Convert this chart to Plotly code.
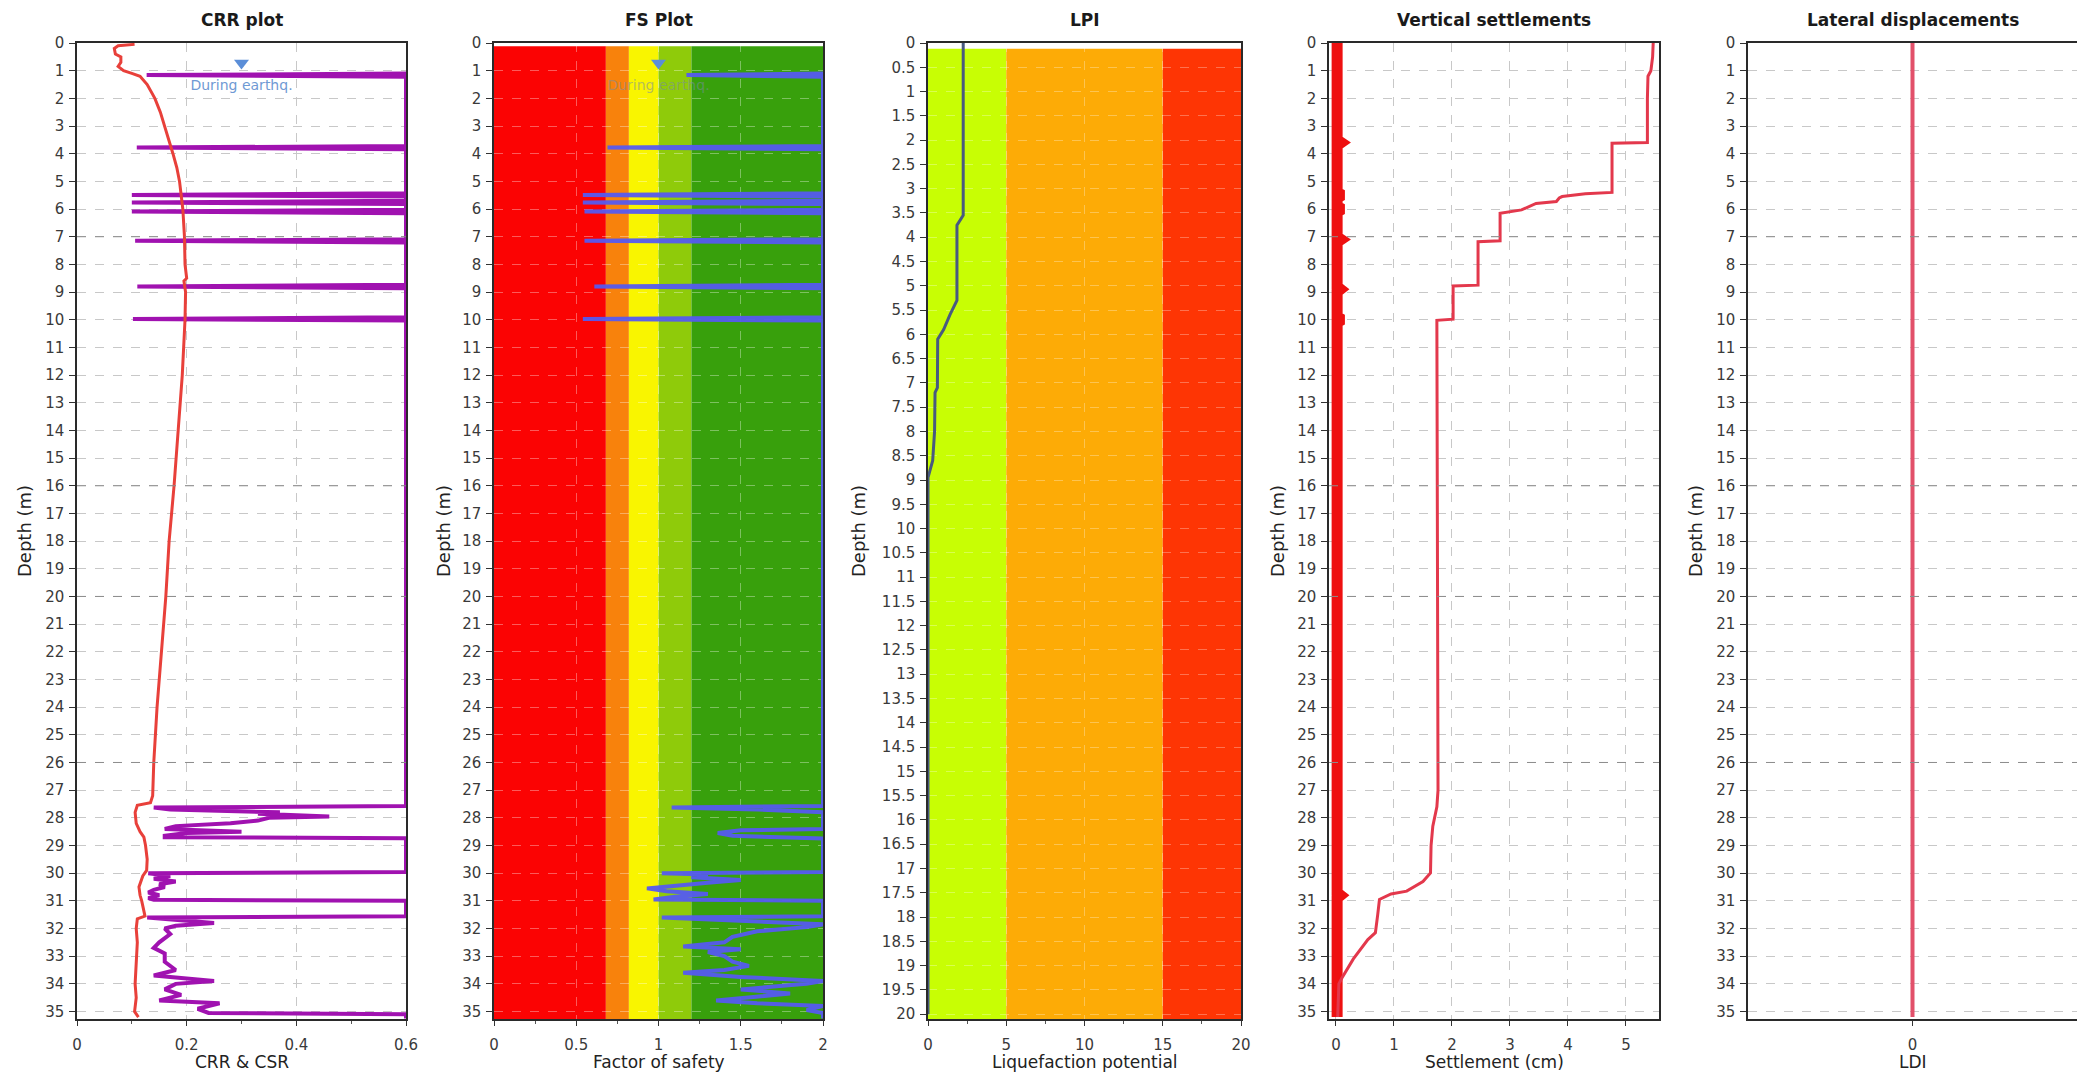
import plotly.graph_objects as go

W, H = 2085, 1082          # browser window
OFF = 8                    # default body margin of the html page
FW, FH = W - 2 * OFF, H - 2 * OFF
FONT = "DejaVu Sans"

# ---------------- data ----------------
panel_titles = ["CRR plot", "FS Plot", "LPI", "Vertical settlements", "Lateral displacements"]
x_titles = ["CRR & CSR", "Factor of safety", "Liquefaction potential", "Settlement (cm)", "LDI"]
depth_title = "Depth (m)"

# CSR (red) in CRR plot
csr_depth = [0.05, 0.1, 0.2, 0.4, 0.5, 0.7, 0.85, 1.0, 1.1, 1.2, 1.5, 2.0, 2.5, 3.0, 3.5, 4.0, 4.5,
             5.0, 5.5, 6.0, 7.0, 8.0, 8.5, 8.6, 9.0, 10.0, 12.0, 14.0, 16.0, 18.0, 20.0, 22.0, 24.0,
             26.0, 27.2, 27.45, 27.55, 27.8, 28.2, 28.5, 28.7, 29.0, 29.5, 29.9, 30.1, 30.5, 30.8,
             31.0, 31.3, 31.55, 31.65, 32.0, 32.5, 33.0, 33.5, 34.0, 34.5, 35.0, 35.2]
csr_value = [0.105, 0.075, 0.068, 0.07, 0.08, 0.08, 0.075, 0.085, 0.1, 0.115, 0.128, 0.142, 0.152,
             0.16, 0.168, 0.175, 0.182, 0.187, 0.19, 0.193, 0.196, 0.197, 0.2, 0.195, 0.198, 0.197,
             0.192, 0.185, 0.177, 0.168, 0.162, 0.154, 0.146, 0.14, 0.138, 0.134, 0.11, 0.106, 0.108,
             0.115, 0.122, 0.125, 0.128, 0.127, 0.12, 0.113, 0.115, 0.118, 0.122, 0.124, 0.11, 0.108,
             0.11, 0.109, 0.107, 0.106, 0.108, 0.105, 0.112]

# CRR (purple), clipped at the right edge of the axis
crr_depth = [1.1, 1.16, 1.22, 3.72, 3.78, 3.84, 5.43, 5.49, 5.55, 5.70, 5.76, 5.82, 6.03, 6.09,
             6.15, 7.09, 7.15, 7.21, 8.74, 8.8, 8.86, 9.91, 9.97, 10.03, 27.57, 27.63, 27.7,
             27.75, 27.8, 27.85, 27.95, 28.0, 28.1, 28.2, 28.3, 28.4, 28.5, 28.55, 28.65, 28.7,
             28.74, 29.96, 30.0, 30.1, 30.2, 30.3, 30.4, 30.5, 30.6, 30.7, 30.8, 30.9, 30.96,
             31.0, 31.56, 31.6, 31.7, 31.8, 31.9, 32.0, 32.2, 32.5, 32.7, 32.9, 33.2, 33.5, 33.7,
             33.9, 34.0, 34.2, 34.4, 34.6, 34.7, 34.9, 35.05, 35.1, 35.25]
crr_value = [0.6, 0.127, 0.6, 0.6, 0.109, 0.6, 0.6, 0.10, 0.6, 0.6, 0.10, 0.6, 0.6, 0.10, 0.6,
             0.6, 0.106, 0.6, 0.6, 0.11, 0.6, 0.6, 0.102, 0.6, 0.6, 0.14, 0.17, 0.28, 0.37, 0.33,
             0.46, 0.35, 0.33, 0.28, 0.18, 0.16, 0.30, 0.2, 0.16, 0.16, 0.6, 0.6, 0.13, 0.17,
             0.14, 0.18, 0.15, 0.16, 0.14, 0.13, 0.15, 0.13, 0.14, 0.6, 0.6, 0.128, 0.2, 0.25,
             0.18, 0.16, 0.17, 0.15, 0.14, 0.16, 0.16, 0.18, 0.14, 0.25, 0.18, 0.16, 0.19, 0.15,
             0.26, 0.22, 0.24, 0.6, 0.6]

# Factor of safety (blue), clipped at 2
fs_depth = [1.1, 1.16, 1.22, 3.72, 3.78, 3.84, 5.43, 5.49, 5.55, 5.70, 5.76, 5.82, 6.03, 6.09,
            6.15, 7.09, 7.15, 7.21, 8.74, 8.8, 8.86, 9.91, 9.97, 10.03, 27.57, 27.63, 27.7, 27.8,
            28.4, 28.45, 28.55, 28.65, 28.75, 29.96, 30.0, 30.05, 30.15, 30.25, 30.35, 30.45,
            30.55, 30.65, 30.75, 30.85, 30.95, 31.0, 31.56, 31.6, 31.65, 31.75, 31.85, 31.95,
            32.1, 32.3, 32.5, 32.65, 32.75, 32.85, 33.0, 33.2, 33.35, 33.5, 33.6, 33.75, 33.9,
            34.0, 34.1, 34.2, 34.35, 34.45, 34.6, 34.7, 34.8, 34.95, 35.05, 35.25]
fs_value = [2, 1.17, 2, 2, 0.69, 2, 2, 0.54, 2, 2, 0.54, 2, 2, 0.55, 2, 2, 0.55, 2, 2, 0.61, 2,
            2, 0.54, 2, 2, 1.08, 1.6, 2, 2, 1.5, 1.36, 1.45, 2, 2, 1.02, 1.3, 1.2, 1.5, 1.3, 1.1,
            0.93, 1.05, 1.3, 1.1, 0.97, 2, 2, 1.02, 1.2, 1.6, 2.0, 1.9, 1.6, 1.45, 1.4, 1.15, 1.5,
            1.3, 1.4, 1.45, 1.55, 1.4, 1.15, 1.5, 2.0, 1.9, 1.7, 1.5, 1.8, 1.6, 1.35, 1.6, 2.0,
            1.9, 2.0, 2.0]
fs_band_edges = [0, 0.68, 0.82, 1.0, 1.2, 2.0]
fs_band_colors = ["#fb0303", "#f8820c", "#f9f500", "#8fcb0a", "#38a00c"]
band_top_depth = 0.12

# LPI
lpi_depth = [0.0, 3.55, 3.75, 5.3, 5.6, 5.9, 6.1, 7.1, 7.2, 8.0, 8.6, 8.95, 20.0]
lpi_value = [2.25, 2.25, 1.85, 1.85, 1.4, 1.0, 0.62, 0.6, 0.45, 0.42, 0.3, 0.0, 0.0]
lpi_band_edges = [0, 5, 15, 20]
lpi_band_colors = ["#c8fe04", "#fdab06", "#fe3504"]

# Vertical settlements (cumulative)
settle_depth = [0.0, 0.5, 1.0, 1.2, 2.0, 3.6, 3.62, 4.5, 5.4, 5.45, 5.55, 5.6, 5.73, 5.8, 5.85,
                6.0, 6.03, 6.15, 7.15, 7.18, 8.75, 8.78, 9.98, 10.02, 20.0, 27.0, 27.6, 28.3,
                29.0, 29.99, 30.3, 30.65, 30.75, 30.95, 31.5, 32.15, 32.4, 33.1, 33.8, 34.0, 35.2]
settle_value = [5.47, 5.46, 5.43, 5.38, 5.37, 5.37, 4.76, 4.76, 4.76, 4.3, 3.9, 3.85, 3.8, 3.45,
                3.4, 3.25, 3.2, 2.83, 2.83, 2.45, 2.45, 2.02, 2.02, 1.74, 1.75, 1.76, 1.74, 1.67,
                1.64, 1.63, 1.5, 1.22, 0.95, 0.75, 0.72, 0.68, 0.55, 0.3, 0.1, 0.05, 0.03]
# incremental settlement per layer
dsettle_depth = [0, 3.5, 3.6, 3.7, 5.4, 5.5, 5.6, 5.9, 6.0, 6.1, 7.0, 7.1, 7.2, 8.8, 8.9, 9.0,
                 9.9, 10.0, 10.1, 30.7, 30.8, 30.9, 35.2]
dsettle_value = [0.02, 0.02, 0.09, 0.02, 0.02, 0.11, 0.02, 0.02, 0.11, 0.02, 0.02, 0.09, 0.02,
                 0.02, 0.08, 0.02, 0.02, 0.11, 0.02, 0.02, 0.08, 0.02, 0.02]

# Lateral displacements
ldi_depth = [0.0, 35.2]
ldi_value = [0.0, 0.0]

# Water table marker
gwt_depth = 0.72
gwt_label_depth = 1.57
gwt_label = "During earthq."
gwt_x_crr = 0.3
gwt_x_fs = 1.0

layer_depths = [7, 16, 20, 26]

for a, b in [(csr_depth, csr_value), (crr_depth, crr_value), (fs_depth, fs_value),
             (lpi_depth, lpi_value), (settle_depth, settle_value), (dsettle_depth, dsettle_value)]:
    assert len(a) == len(b), (len(a), len(b))

# ---------------- layout geometry (window pixels) ----------------
panels_px = [(77, 406), (494, 823), (928, 1241), (1329, 1659), (1748, 2077)]
plot_top_px, plot_bot_px = 43, 1019


def px(xp):
    return (xp - OFF) / FW


def py(yp):
    return 1 - (yp - OFF) / FH


ydom = [py(plot_bot_px), py(plot_top_px)]

x_ranges = [[0, 0.6], [0, 2], [0, 20], [-0.12, 5.57], [-1, 1]]
y_ranges = [[35.27, 0], [35.27, 0], [20.1, 0], [35.27, 0], [35.27, 0]]

fig = go.Figure()


def ax(i):
    return ("x" if i == 0 else f"x{i+1}"), ("y" if i == 0 else f"y{i+1}")


# CRR panel
fig.add_trace(go.Scatter(x=crr_value, y=crr_depth, mode="lines",
                         line=dict(color="#a012b0", width=4), xaxis="x", yaxis="y"))
fig.add_trace(go.Scatter(x=csr_value, y=csr_depth, mode="lines",
                         line=dict(color="#e8403a", width=3), xaxis="x", yaxis="y"))
# FS panel
fig.add_trace(go.Scatter(x=fs_value, y=fs_depth, mode="lines",
                         line=dict(color="rgba(85,90,240,0.95)", width=4), xaxis="x2", yaxis="y2"))
# LPI
fig.add_trace(go.Scatter(x=lpi_value, y=lpi_depth, mode="lines",
                         line=dict(color="#485a80", width=3), xaxis="x3", yaxis="y3"))
# Settlements
fig.add_trace(go.Scatter(x=dsettle_value, y=dsettle_depth, mode="lines",
                         line=dict(color="#ee1010", width=11), xaxis="x4", yaxis="y4"))
fig.add_trace(go.Scatter(x=settle_value, y=settle_depth, mode="lines",
                         line=dict(color="#e3384c", width=3), xaxis="x4", yaxis="y4"))
# LDI
fig.add_trace(go.Scatter(x=ldi_value, y=ldi_depth, mode="lines",
                         line=dict(color="#e2506a", width=4), xaxis="x5", yaxis="y5"))

# water table markers
for xa, ya, xv in [("x", "y", gwt_x_crr), ("x2", "y2", gwt_x_fs)]:
    fig.add_trace(go.Scatter(x=[xv], y=[gwt_depth], mode="markers",
                             marker=dict(symbol="triangle-down", size=13, color="#5b8ed8"),
                             xaxis=xa, yaxis=ya))
fig.add_trace(go.Scatter(x=[gwt_x_crr], y=[gwt_label_depth], mode="text", text=[gwt_label],
                         textfont=dict(color="#6f9ad4", size=14, family=FONT),
                         xaxis="x", yaxis="y"))
fig.add_trace(go.Scatter(x=[gwt_x_fs], y=[gwt_label_depth], mode="text", text=[gwt_label],
                         textfont=dict(color="rgba(120,140,160,0.55)", size=14, family=FONT),
                         xaxis="x2", yaxis="y2"))

shapes = []
for edges, colors, xa, ya, ymax in [(fs_band_edges, fs_band_colors, "x2", "y2", 35.27),
                                    (lpi_band_edges, lpi_band_colors, "x3", "y3", 20.1)]:
    for k, c in enumerate(colors):
        shapes.append(dict(type="rect", xref=xa, yref=ya, x0=edges[k], x1=edges[k + 1],
                           y0=band_top_depth, y1=ymax, fillcolor=c, line=dict(width=0),
                           layer="below"))
for i in [0, 3, 4]:
    xa, ya = ax(i)
    for d in layer_depths:
        shapes.append(dict(type="line", xref=f"{xa} domain", yref=ya, x0=0, x1=1, y0=d, y1=d,
                           line=dict(color="#8c8c8c", width=1, dash="dash"), layer="above"))

tickfont = dict(size=15, color="#3a3a3a", family=FONT)
layout = dict(width=FW, height=FH, margin=dict(l=0, r=0, t=0, b=0, autoexpand=False),
              paper_bgcolor="white", plot_bgcolor="white", showlegend=False,
              font=dict(family=FONT), shapes=shapes)

x_ticks = [
    dict(tickvals=[0, 0.2, 0.4, 0.6], ticktext=["0", "0.2", "0.4", "0.6"],
         minor=dict(tickvals=[0.1, 0.3, 0.5], ticks="outside", ticklen=3, tickcolor="#555")),
    dict(tickvals=[0, 0.5, 1, 1.5, 2], ticktext=["0", "0.5", "1", "1.5", "2"],
         minor=dict(tickvals=[0.25, 0.75, 1.25, 1.75], ticks="outside", ticklen=3, tickcolor="#555")),
    dict(tickvals=[0, 5, 10, 15, 20], ticktext=["0", "5", "10", "15", "20"],
         minor=dict(tickvals=[2.5, 7.5, 12.5, 17.5], ticks="outside", ticklen=3, tickcolor="#555")),
    dict(tickvals=[0, 1, 2, 3, 4, 5], ticktext=["0", "1", "2", "3", "4", "5"]),
    dict(tickvals=[0], ticktext=["0"]),
]
grid_colors = ["#c8c8c8", "rgba(255,255,255,0.35)", "rgba(255,255,255,0.3)", "#c8c8c8", "#c8c8c8"]

for i, (l, r) in enumerate(panels_px):
    xa, ya = ax(i)
    xkey = "xaxis" if i == 0 else f"xaxis{i+1}"
    ykey = "yaxis" if i == 0 else f"yaxis{i+1}"
    xd = dict(domain=[px(l), px(r)], anchor=ya, range=x_ranges[i], showline=True,
              linecolor="#2a2a2a", linewidth=1.5, mirror=True, ticks="outside", ticklen=5,
              tickcolor="#333", tickfont=tickfont, showgrid=(i != 4), gridcolor=grid_colors[i],
              griddash="dash", gridwidth=1, zeroline=False, ticklabelstandoff=6,
              tickmode="array", automargin=False)
    xd.update(x_ticks[i])
    layout[xkey] = xd
    if i == 2:
        yt = dict(tick0=0, dtick=0.5)
    else:
        yt = dict(tick0=0, dtick=1)
    yd = dict(domain=ydom, anchor=xa, range=y_ranges[i], showline=True, linecolor="#2a2a2a",
              linewidth=1.5, mirror=True, ticks="outside", ticklen=6, tickcolor="#333",
              tickfont=tickfont, showgrid=True, gridcolor=grid_colors[i], griddash="dash",
              gridwidth=1, zeroline=False, tickmode="linear", ticklabelstandoff=2,
              automargin=False)
    yd.update(yt)
    layout[ykey] = yd

annotations = []
ytitle_offsets = [53, 51, 70, 52, 53]
for i, (l, r) in enumerate(panels_px):
    cx = px((l + r) / 2)
    annotations.append(dict(text=f"<b>{panel_titles[i]}</b>", x=cx, y=py(20), xref="paper",
                            yref="paper", showarrow=False, xanchor="center", yanchor="middle",
                            font=dict(size=17, color="#1a1a1a", family=FONT)))
    annotations.append(dict(text=x_titles[i], x=cx, y=py(H - OFF - 1), xref="paper",
                            yref="paper", showarrow=False, xanchor="center", yanchor="bottom",
                            borderpad=0, font=dict(size=17, color="#222", family=FONT)))
    annotations.append(dict(text=depth_title, x=px(l - ytitle_offsets[i]),
                            y=py((plot_top_px + plot_bot_px) / 2), xref="paper",
                            yref="paper", showarrow=False, xanchor="center", yanchor="middle",
                            textangle=-90, font=dict(size=18, color="#222", family=FONT)))
layout["annotations"] = annotations

fig.update_layout(**layout)
fig.write_html("out.html")
